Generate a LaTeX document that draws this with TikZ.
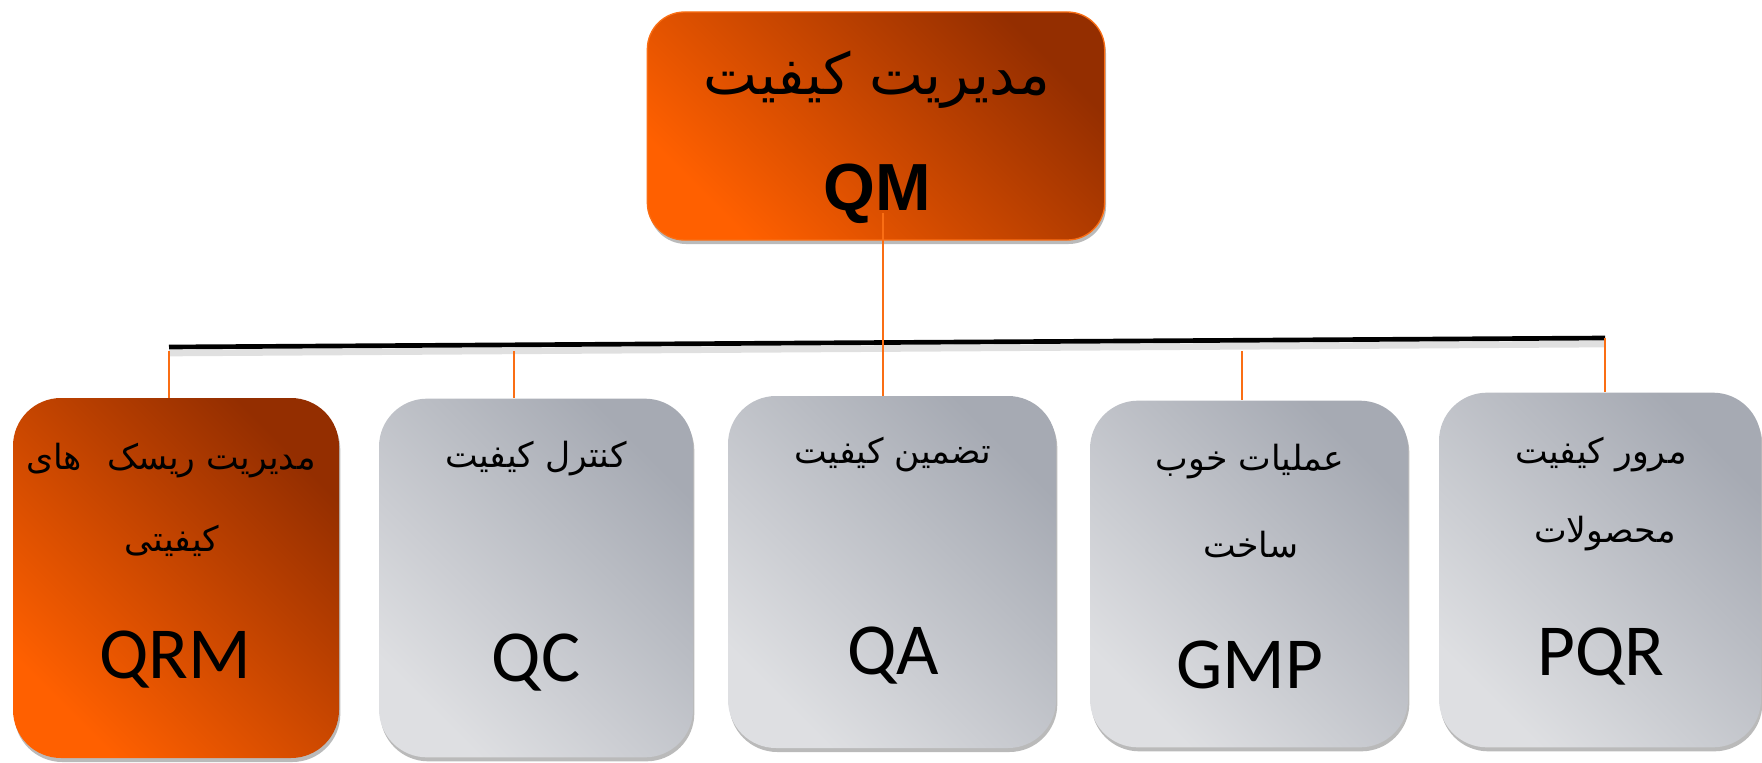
\documentclass[tikz,border=0pt]{standalone}
\usepackage{fontspec}
\setmainfont{Liberation Sans}
\newfontfamily\farsifont[Script=Arabic]{DejaVu Sans}
\newfontfamily\calibrifont{Carlito}
\TeXXeTstate=1
\usetikzlibrary{shadows,calc}
\definecolor{qmorange}{RGB}{255,96,0}
\definecolor{qmbrown}{RGB}{148,46,0}
\definecolor{qmline}{RGB}{250,110,20}
\definecolor{boxlight}{RGB}{222,223,226}
\definecolor{boxdark}{RGB}{166,170,179}

\tikzset{
  box/.style={rounded corners=36pt, inner sep=0pt,
    drop shadow={shadow xshift=1pt, shadow yshift=-3pt, fill=black!45, opacity=0.6}},
  orangebox/.style={box, top color=qmbrown, bottom color=qmorange, shading angle=-45},
  graybox/.style={box, top color=boxdark, bottom color=boxlight, shading angle=-45},
  fa/.style={font=\farsifont\fontsize{26}{30}\selectfont},
  fabig/.style={font=\farsifont\fontsize{43}{48}\selectfont},
  abbr/.style={font=\calibrifont\fontsize{55}{60}\selectfont},
  link/.style={qmline, line width=1.1pt},
  bar/.style={black, line width=3.5pt},
}

\begin{document}
\begin{tikzpicture}[x=0.75pt, y=-0.75pt]
    \useasboundingbox (0,0) rectangle (1762,763);

    % Top box
    \node[orangebox, draw=qmline, line width=1pt, rounded corners=28pt,
          minimum width=343pt, minimum height=171pt] (qm) at (876,126) {};
    \node[fabig] (qmfa) at (877,80) {\beginR مدیریت کیفیت\endR};
    \node[font=\bfseries\fontsize{50}{56}\selectfont] (qmab) at (877,194) {QM};

    % Lower boxes
    \node[orangebox, minimum width=244.5pt, minimum height=270pt] (qrm) at (176,578) {};
    \node[graybox, minimum width=235.5pt, minimum height=269pt] (qc) at (536,578) {};
    \node[graybox, minimum width=246pt, minimum height=264pt] (qa) at (892,572) {};
    \node[graybox, minimum width=238.5pt, minimum height=260pt] (gmp) at (1249,574) {};
    \node[graybox, minimum width=241.5pt, minimum height=266pt] (pqr) at (1600,570) {};

    % Labels
    \node[fa] (qrmfa) at (171,461) {\beginR مدیریت ریسک\hspace{0.4em} های\endR};
    \node[fa] (qrmfb) at (172,541) {\beginR کیفیتی\endR};
    \node[abbr] (qrmab) at (175,660) {QRM};

    \node[fa] (qcfa) at (536,459) {\beginR کنترل کیفیت\endR};
    \node[abbr] (qcab) at (536,663) {QC};

    \node[fa] (qafa) at (893,455) {\beginR تضمین کیفیت\endR};
    \node[abbr] (qaab) at (893,656) {QA};

    \node[fa] (gmpfa) at (1250,462) {\beginR عملیات خوب\endR};
    \node[fa] (gmpfb) at (1251,545) {\beginR ساخت\endR};
    \node[abbr] (gmpab) at (1250,665) {GMP};

    \node[fa] (pqrfa) at (1601,455) {\beginR مرور کیفیت\endR};
    \node[fa] (pqrfb) at (1605,534) {\beginR محصولات\endR};
    \node[abbr] (pqrab) at (1601,657) {PQR};

    % Bar and drops
    \coordinate (barL) at (169,347);
    \coordinate (barR) at (1605,338);
    \coordinate (qmfoot) at (883,213);
    \coordinate (d1) at (169,351);
    \coordinate (d2) at (514,351);
    \coordinate (d4) at (1242,351);

    \draw[black!12, line width=5pt] ($(barL)+(0,6)$) -- ($(barR)+(0,6)$);
    \draw[bar] (barL) -- (barR);

    \draw[link] (qmfoot) -- (qmfoot |- qa.north);
    \draw[link] (d1) -- (d1 |- qrm.north);
    \draw[link] (d2) -- (d2 |- qc.north);
    \draw[link] (d4) -- (d4 |- gmp.north);
    \draw[link] (barR) -- (barR |- pqr.north);
\end{tikzpicture}
\end{document}
